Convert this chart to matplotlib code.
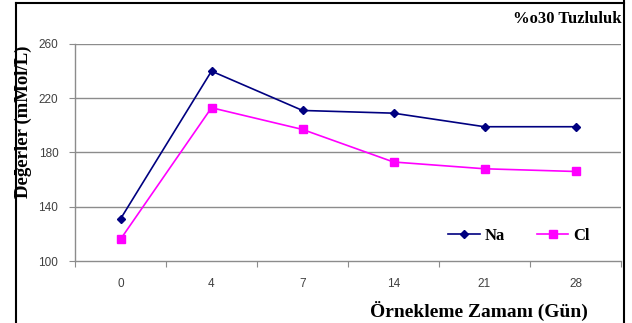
import matplotlib
matplotlib.use("Agg")
import matplotlib.pyplot as plt
from matplotlib.lines import Line2D

# data
days = ["0", "4", "7", "14", "21", "28"]
na_vals = [131, 240, 211, 209, 199, 199]
cl_vals = [116, 213, 197, 173, 168, 166]
y_ticks = [100, 140, 180, 220, 260]

NA_COLOR = "#000080"
CL_COLOR = "#FF00FF"
GRID = "#8c8c8c"

fig = plt.figure(figsize=(6.32, 3.23), dpi=100)
ax = fig.add_axes([75 / 632, 1 - 261 / 323, (621 - 75) / 632, (261 - 44) / 323])

x = list(range(len(days)))
ax.plot(x, na_vals, color=NA_COLOR, lw=1.2, marker="D", ms=4,
        markerfacecolor=NA_COLOR, markeredgecolor=NA_COLOR, label="Na")
ax.plot(x, cl_vals, color=CL_COLOR, lw=1.2, marker="s", ms=5.5,
        markerfacecolor=CL_COLOR, markeredgecolor=CL_COLOR, label="Cl")

ax.set_xlim(-0.5, len(days) - 0.5)
ax.set_ylim(100, 260)
ax.set_yticks(y_ticks)
ax.set_yticklabels([str(v) for v in y_ticks])
for v in y_ticks[1:]:
    ax.axhline(v, color=GRID, lw=1.0, zorder=0)

# category axis: tick marks between categories, labels at centres
ax.set_xticks([i - 0.5 for i in range(len(days) + 1)])
ax.set_xticklabels([])
ax.set_xticks(x, minor=True)
ax.set_xticklabels(days, minor=True)
ax.tick_params(axis="x", which="major", length=4, color=GRID, direction="out")
ax.tick_params(axis="x", which="minor", length=0, pad=12)
ax.tick_params(axis="y", length=4, color=GRID, pad=8)
for lab in ax.get_xticklabels(minor=True) + ax.get_yticklabels():
    lab.set_fontfamily("Liberation Sans")
    lab.set_fontsize(8.5)
    lab.set_color("#404040")

for s in ("top", "right"):
    ax.spines[s].set_visible(False)
for s in ("left", "bottom"):
    ax.spines[s].set_color(GRID)
    ax.spines[s].set_linewidth(1.0)

serif_bold = dict(fontfamily="Liberation Serif", fontweight="bold", color="black")
fig.text(23 / 632, 1 - 122 / 323, "Değerler (mMol/L)", rotation=90,
         ha="center", va="center", fontsize=13.5, **serif_bold)
fig.text(479 / 632, 1 - 311 / 323, "Örnekleme Zamanı (Gün)",
         ha="center", va="center", fontsize=14, **serif_bold)
fig.text(622 / 632, 1 - 19 / 323, "%o30 Tuzluluk",
         ha="right", va="center", fontsize=12, **serif_bold)

handles = [
    Line2D([], [], color=NA_COLOR, lw=1.2, marker="D", ms=4),
    Line2D([], [], color=CL_COLOR, lw=1.2, marker="s", ms=5.5),
]
leg = ax.legend(handles, ["Na", "Cl"], ncol=2, frameon=False,
                loc="center", bbox_to_anchor=((519 - 75) / 546, (261 - 236) / 217),
                handlelength=1.9, handletextpad=0.3, columnspacing=1.9,
                prop=dict(family="Liberation Serif", weight="bold", size=12))

# outer frame of the figure (left, top and right sides)
fig.add_artist(Line2D([16 / 632, 16 / 632], [0, 1 - 3 / 323],
                      transform=fig.transFigure, color="black", lw=1.5))
fig.add_artist(Line2D([16 / 632, 624 / 632], [1 - 3 / 323, 1 - 3 / 323],
                      transform=fig.transFigure, color="black", lw=1.5))
fig.add_artist(Line2D([624 / 632, 624 / 632], [0, 1],
                      transform=fig.transFigure, color="black", lw=1.5))

fig.savefig("out.png", dpi=100)
